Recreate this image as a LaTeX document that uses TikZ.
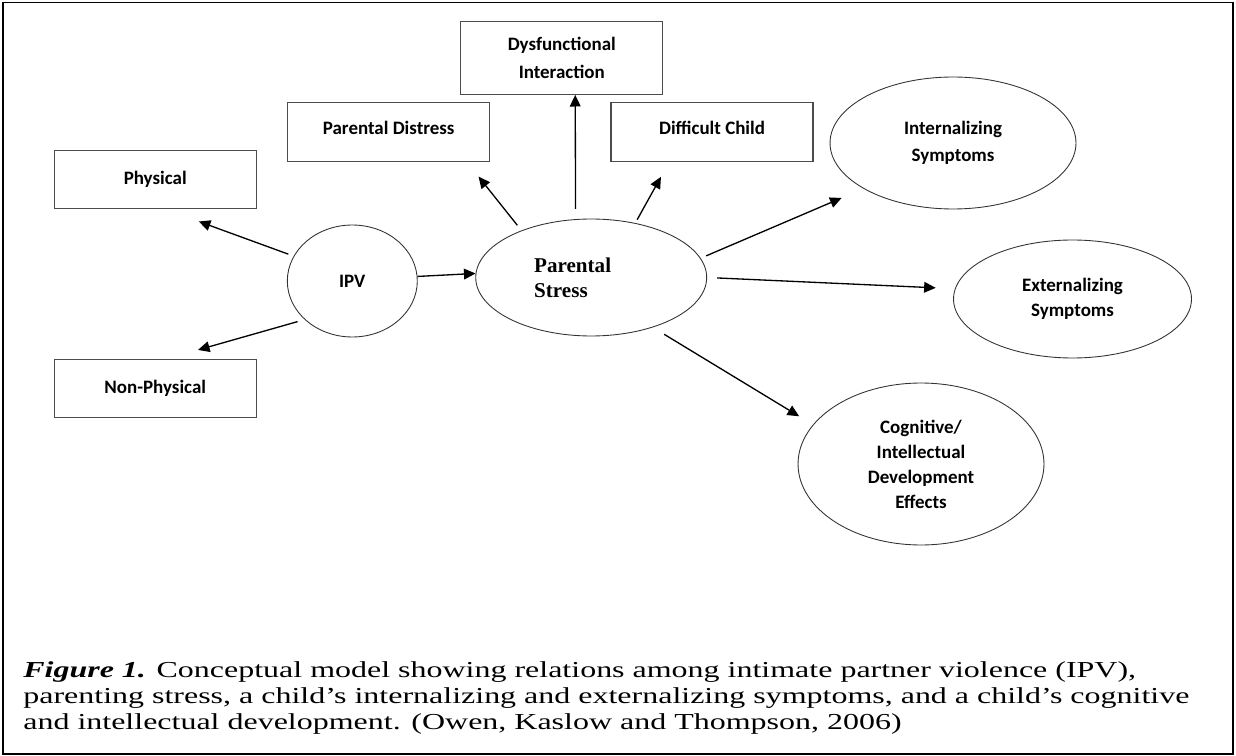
\documentclass[tikz,border=0pt]{standalone}
\usepackage{fontspec}
\setmainfont{Liberation Serif}
\newfontfamily\labelfont{Carlito}
\newfontfamily\captionfont[FakeStretch=1.40]{Liberation Serif}
\usetikzlibrary{arrows.meta, shapes.geometric}

\begin{document}
\begin{tikzpicture}[
            x=0.02cm, y=-0.02cm,
            box/.style={draw=black!70, line width=0.7pt, minimum width=4.04cm, minimum height=1.17cm,
                        align=center, font=\labelfont\bfseries\fontsize{10.8}{15.5}\selectfont},
            oval/.style={ellipse, draw=black!80, line width=0.5pt, align=center,
                        font=\labelfont\bfseries\fontsize{10.8}{15.5}\selectfont},
            arr/.style={-{Triangle[length=6.6pt, width=6.1pt]}, line width=0.75pt}]

            \useasboundingbox (0,0) rectangle (1236,756);
            \draw[line width=0.9pt] (3,2.5) rectangle (1233,754);

            % IPV and its two forms
            \node[oval, minimum width=2.6cm, minimum height=2.24cm] (ipv) at (352.3,281) {IPV};
            \node[box, minimum height=1.16cm] (physical) at (155.2,179.7) {Physical};
            \node[box, minimum height=1.16cm] (nonphys)  at (155.2,388.3) {Non-Physical};

            % parental stress and its three parts
            \node[oval, minimum width=4.62cm, minimum height=2.34cm, text width=2.28cm, align=left,
                  font=\bfseries\fontsize{12}{14.2}\selectfont] (stress) at (591.2,277.5) {Parental\\Stress};
            \node[box, minimum height=1.18cm, text depth=4.5pt] (distress) at (388.7,132.2) {Parental Distress};
            \node[box, minimum height=1.452cm] (dysfunc) at (561.8,58) {Dysfunctional\\Interaction};
            \node[box, minimum height=1.18cm, text depth=4.5pt] (difficult) at (712,132.2) {Difficult Child};

            % child outcomes
            \node[oval, minimum width=4.92cm, minimum height=2.64cm] (internal) at (953,143) {Internalizing\\Symptoms};
            \node[oval, minimum width=4.76cm, minimum height=2.36cm,
                  font=\labelfont\bfseries\fontsize{10.8}{14}\selectfont] (external) at (1072.5,299) {Externalizing\\Symptoms};
            \node[oval, minimum width=4.92cm, minimum height=3.24cm,
                  font=\labelfont\bfseries\fontsize{10.8}{14.2}\selectfont] (cognitive) at (921,464)
                  {Cognitive/\\Intellectual\\Development\\Effects};

            \draw[arr, shorten <=0.113cm, shorten >=0.711cm] (ipv.157.8) -- (physical.-71.3);
            \draw[arr, shorten <=0.146cm, shorten >=0.641cm] (ipv.219.5) -- (nonphys.68.4);
            \draw[arr] (ipv.4.4) -- (stress.178.8);

            % arrows leave the stress oval with a small gap
            \draw[arr, shorten <=0.131cm, shorten >=0.366cm] (stress.146.6) -- (distress.-21.1);
            \draw[arr, shorten <=0.206cm] (stress.105.6) -- (dysfunc.-70.0);
            \draw[arr, shorten <=0.077cm, shorten >=0.332cm] (stress.51.2) -- (difficult.215.8);
            \draw[arr, shorten <=0.117cm, shorten >=0.474cm] (stress.10.0) -- (internal.207.3);
            \draw[arr, shorten <=0.201cm, shorten >=0.384cm] (stress.-0.7) -- (external.175.2);
            \draw[arr, shorten <=0.265cm, shorten >=0.323cm] (stress.-39.7) -- (cognitive.160.1);

            \node[anchor=north west, inner sep=0pt, align=left, font=\captionfont\fontsize{13}{14.9}\selectfont]
                  (caption) at (23,661)
                  {\textbf{\textit{Figure 1.}} Conceptual model showing relations among intimate partner violence (IPV),\\
                   parenting stress, a child’s internalizing and externalizing symptoms, and a child’s cognitive\\
                   and intellectual development. (Owen, Kaslow and Thompson, 2006)};
        \end{tikzpicture}
\end{document}
